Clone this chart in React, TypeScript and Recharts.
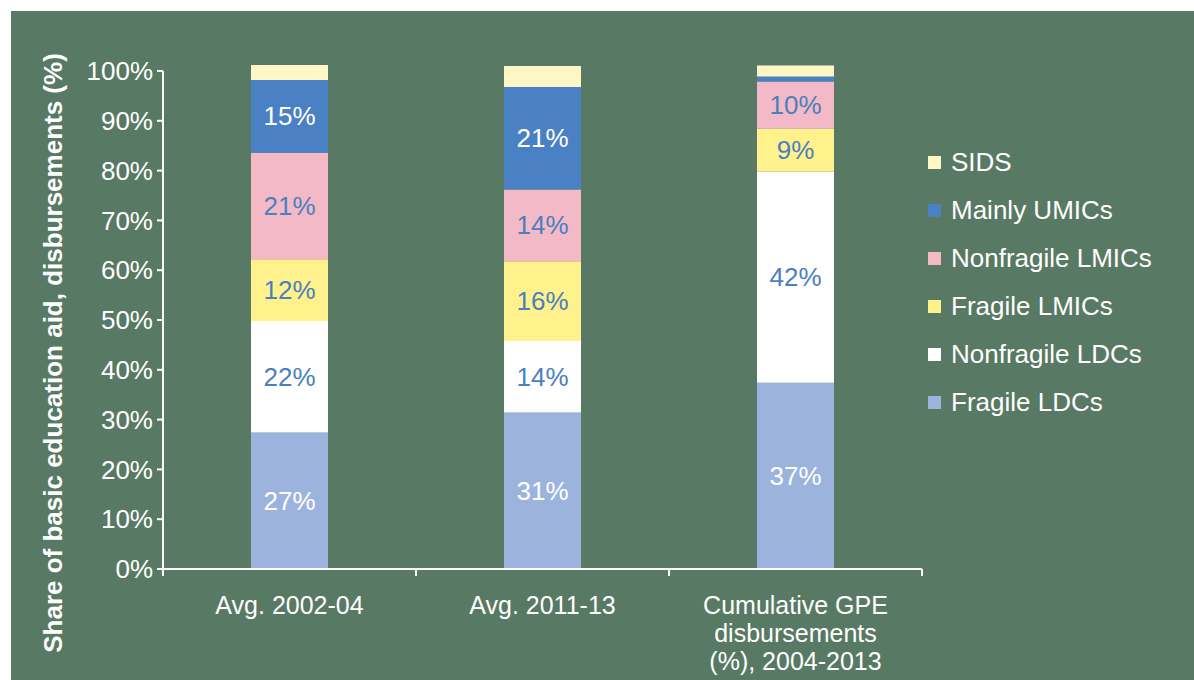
import React from 'react';
import { BarChart, Bar, XAxis, YAxis, Legend, LabelList, ReferenceLine } from 'recharts';

const categories = ['Avg. 2002-04', 'Avg. 2011-13', 'Cumulative GPE disbursements (%), 2004-2013'];
const categoryLines = [['Avg. 2002-04'], ['Avg. 2011-13'], ['Cumulative GPE', 'disbursements', '(%), 2004-2013']];
const fragileLDCs = [27.4, 31.4, 37.4];
const nonfragileLDCs = [22.4, 14.4, 42.4];
const fragileLMICs = [12.4, 16.0, 8.6];
const nonfragileLMICs = [21.4, 14.4, 9.5];
const mainlyUMICs = [14.6, 20.6, 1.0];
const sids = [3.0, 4.2, 2.2];
const yTicks = [0, 10, 20, 30, 40, 50, 60, 70, 80, 90, 100];
const yLabel = 'Share of basic education aid, disbursements (%)';

const series = [
  { key: 'fragileLDCs', name: 'Fragile LDCs', values: fragileLDCs, color: '#9cb4dd', labelColor: '#ffffff' },
  { key: 'nonfragileLDCs', name: 'Nonfragile LDCs', values: nonfragileLDCs, color: '#ffffff', labelColor: '#4a7fc1' },
  { key: 'fragileLMICs', name: 'Fragile LMICs', values: fragileLMICs, color: '#fff28c', labelColor: '#4a7fc1' },
  { key: 'nonfragileLMICs', name: 'Nonfragile LMICs', values: nonfragileLMICs, color: '#f3b9c6', labelColor: '#4a7fc1' },
  { key: 'mainlyUMICs', name: 'Mainly UMICs', values: mainlyUMICs, color: '#4a80c4', labelColor: '#ffffff' },
  { key: 'sids', name: 'SIDS', values: sids, color: '#fff6c6', labelColor: '#4a7fc1' },
];

const data = categories.map((c, i) => {
  const row: any = { category: c, idx: i };
  series.forEach((s) => { row[s.key] = s.values[i]; });
  return row;
});

const FONT = 'Arial, "Liberation Sans", Helvetica, sans-serif';
const BG = '#587964';
const W = 1183;
const H = 669;
const MARGIN = { top: 54, right: 272, bottom: 0, left: 0 };
const Y_W = 152;
const PLOT_W = W - MARGIN.left - MARGIN.right - Y_W;
const BAND = PLOT_W / categories.length;

const XTick = (props: any) => {
  const { x, y, index } = props;
  const lines = categoryLines[index] || [];
  return (
    <g>
      <line x1={x + BAND / 2} x2={x + BAND / 2} y1={y} y2={y + 7} stroke="#fff" strokeWidth={2} />
      {index === 0 && <line x1={x - BAND / 2} x2={x - BAND / 2} y1={y} y2={y + 7} stroke="#fff" strokeWidth={2} />}
      <text x={x} y={y + 45} textAnchor="middle" fill="#fff" fontSize={25} fontFamily={FONT}>
        {lines.map((l, i) => (
          <tspan key={i} x={x} dy={i === 0 ? 0 : 28}>{l}</tspan>
        ))}
      </text>
    </g>
  );
};

const makeLabel = (color: string) => (props: any) => {
  const { x, y, width, height, value } = props;
  if (value == null || value < 5) return null;
  return (
    <text x={x + width / 2} y={y + height / 2} textAnchor="middle" dominantBaseline="central" fill={color} fontSize={26} fontFamily={FONT}>
      {Math.round(value)}%
    </text>
  );
};

const seriesOrder = (name: string) => series.findIndex((s) => s.name === name);

const LegendContent = (props: any) => {
  const items = [...(props.payload || [])].sort((a: any, b: any) => seriesOrder(b.value) - seriesOrder(a.value));
  return (
    <div style={{ fontFamily: FONT, width: 0, height: 0, overflow: 'visible' }}>
      {items.map((it: any) => (
        <div key={it.value} style={{ height: 48, display: 'flex', alignItems: 'center' }}>
          <div style={{ width: 13, height: 13, background: it.color, marginRight: 10, flexShrink: 0 }} />
          <span style={{ color: '#fff', fontSize: 26, whiteSpace: 'nowrap' }}>{it.value}</span>
        </div>
      ))}
    </div>
  );
};

const YLabel = (props: any) => {
  const vb = props.viewBox || {};
  const cx = (vb.x || 0) + 42;
  const cy = (vb.y || 0) + (vb.height || 0) / 2 + 36;
  return (
    <text x={cx} y={cy} transform={`rotate(-90, ${cx}, ${cy})`} textAnchor="middle" dominantBaseline="central" fill="#fff" fontSize={26} fontWeight="bold" fontFamily={FONT}>
      {yLabel}
    </text>
  );
};

export default function App() {
  return (
    <div style={{ position: 'absolute', left: 11, top: 11, width: W, height: H, background: BG }}>
      <BarChart width={W} height={H} data={data} margin={MARGIN} barSize={77}>
        <XAxis
          dataKey="category"
          height={111}
          axisLine={{ stroke: '#fff', strokeWidth: 2 }}
          tickLine={false}
          tickSize={0}
          tickMargin={0}
          interval={0}
          tick={<XTick />}
        />
        <XAxis xAxisId="edge" type="number" domain={[0, 1]} hide />
        <YAxis
          width={Y_W}
          domain={[0, 101.2]}
          ticks={yTicks}
          allowDataOverflow
          axisLine={false}
          tickLine={{ stroke: '#fff', strokeWidth: 2 }}
          tickSize={6}
          tickMargin={4}
          tickFormatter={(v: number) => `${v}%`}
          tick={{ fill: '#fff', fontSize: 26, fontFamily: FONT }}
          label={<YLabel />}
        />
        <ReferenceLine
          xAxisId="edge"
          segment={[{ x: 0, y: 0 }, { x: 0, y: 100 }]}
          stroke="#fff"
          strokeWidth={2}
          ifOverflow="visible"
        />
        {series.map((s) => (
          <Bar key={s.key} dataKey={s.key} name={s.name} stackId="a" fill={s.color} isAnimationActive={false}>
            <LabelList dataKey={s.key} content={makeLabel(s.labelColor)} />
          </Bar>
        ))}
        <Legend
          layout="horizontal"
          align="right"
          verticalAlign="middle"
          content={<LegendContent />}
          wrapperStyle={{ left: 917, top: 127, width: 0, height: 0, overflow: 'visible' }}
        />
      </BarChart>
    </div>
  );
}
